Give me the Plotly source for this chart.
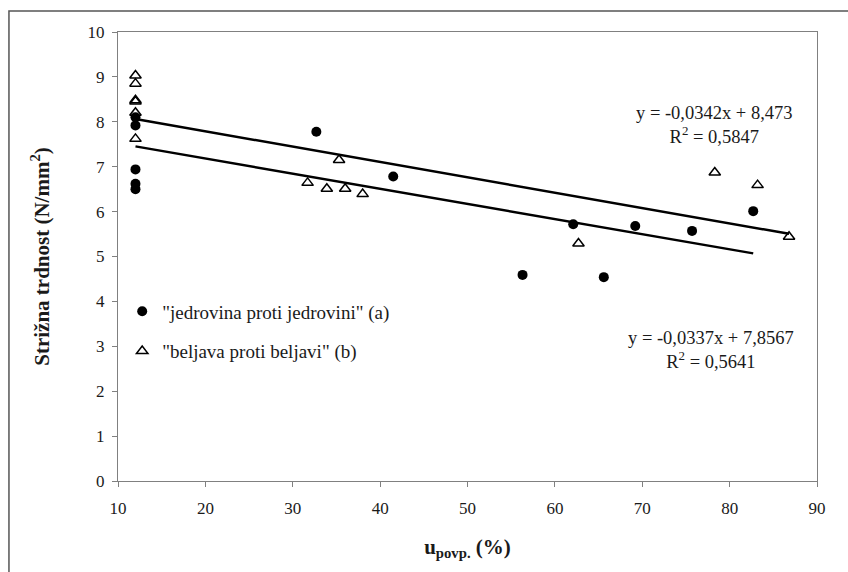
import plotly.graph_objects as go

# Moisture content u_povp. (%) and shear strength (N/mm2)
# (a) heartwood bonded to heartwood
x_a = [12, 12, 12, 12, 12, 32.7, 41.5, 56.3, 62.1, 65.6, 69.2, 75.7, 82.7]
y_a = [7.92, 8.1, 6.94, 6.62, 6.50, 7.78, 6.78, 4.59, 5.72, 4.54, 5.68, 5.57, 6.01]

# (b) sapwood bonded to sapwood
x_b = [12, 12, 12, 12, 12, 12, 31.7, 33.9, 35.3, 36.0, 38.0, 62.7, 78.3, 83.2, 86.8]
y_b = [9.03, 8.85, 8.48, 8.45, 8.20, 7.62, 6.64, 6.51, 7.15, 6.51, 6.39, 5.29, 6.87, 6.59, 5.44]

# Linear trend coefficients (slope, intercept, R2)
fit_a = [-0.0337, 7.8567, 0.5641]
fit_b = [-0.0342, 8.473, 0.5847]

labels = ['"jedrovina proti jedrovini" (a)', '"beljava proti beljavi" (b)']
x_ticks = [10, 20, 30, 40, 50, 60, 70, 80, 90]
y_ticks = [0, 1, 2, 3, 4, 5, 6, 7, 8, 9, 10]

SERIF = "Liberation Serif"
INK = "#1a1a1a"
AXIS = "#808080"


def trend(xs, fit):
    x0, x1 = min(xs), max(xs)
    return [x0, x1], [fit[0] * x0 + fit[1], fit[0] * x1 + fit[1]]


def fmt(v):
    return f"{v}".replace(".", ",")


fig = go.Figure()

tx_b, ty_b = trend(x_b, fit_b)
tx_a, ty_a = trend(x_a, fit_a)
fig.add_trace(go.Scatter(x=tx_b, y=ty_b, mode="lines", line=dict(color="black", width=2.5),
                         showlegend=False, hoverinfo="skip"))
fig.add_trace(go.Scatter(x=tx_a, y=ty_a, mode="lines", line=dict(color="black", width=2.5),
                         showlegend=False, hoverinfo="skip"))

fig.add_trace(go.Scatter(x=x_a, y=y_a, mode="markers", name=labels[0], legendgroup="a",
                         marker=dict(symbol="circle", size=10, color="black")))
fig.add_trace(go.Scatter(x=x_b, y=y_b, mode="markers", name=labels[1], legendgroup="b",
                         marker=dict(symbol="triangle-up-open", size=10, color="black",
                                     line=dict(color="black", width=1.5))))

# Trend equations
for fit, ax, ay in [(fit_b, 0.853, 0.793), (fit_a, 0.848, 0.291)]:
    fig.add_annotation(
        xref="paper", yref="paper", x=ax, y=ay, showarrow=False, align="center",
        xanchor="center", yanchor="middle",
        text=f"y = {fmt(fit[0])}x + {fmt(fit[1])}<br>R<sup>2</sup> = {fmt(fit[2])}",
        font=dict(family=SERIF, size=18.5, color=INK))

# Outer frame around the chart
fig.add_shape(type="rect", xref="paper", yref="paper", x0=-0.156, x1=1.5, y0=-0.5, y1=1.047,
              line=dict(color="#555555", width=1.5), layer="below")

fig.update_layout(
    width=848, height=572,
    margin=dict(l=118, r=31, t=32, b=91),
    paper_bgcolor="white", plot_bgcolor="white",
    font=dict(family=SERIF, size=17, color=INK),
    legend=dict(x=0.006, y=0.42, xanchor="left", yanchor="top", bgcolor="rgba(0,0,0,0)",
                tracegroupgap=12, traceorder="grouped", itemwidth=30,
                font=dict(family=SERIF, size=19, color=INK)),
    xaxis=dict(range=[10, 90], tickvals=x_ticks, ticks="outside", ticklen=5, tickcolor=AXIS,
               showline=True, linecolor=AXIS, linewidth=1.2, mirror=True, showgrid=False,
               zeroline=False, tickfont=dict(family=SERIF, size=17, color=INK),
               ticklabelstandoff=6,
               title=dict(text="<b>u<sub>povp.</sub> (%)</b>",
                          font=dict(family=SERIF, size=21, color=INK), standoff=22)),
    yaxis=dict(range=[0, 10], tickvals=y_ticks, ticks="outside", ticklen=5, tickcolor=AXIS,
               showline=True, linecolor=AXIS, linewidth=1.2, mirror=True, showgrid=False,
               zeroline=False, tickfont=dict(family=SERIF, size=17, color=INK),
               ticklabelstandoff=4,
               title=dict(text="<b>Strižna trdnost (N/mm<sup>2</sup>)</b>",
                          font=dict(family=SERIF, size=21, color=INK), standoff=32)),
)

fig.write_html("out.html")
